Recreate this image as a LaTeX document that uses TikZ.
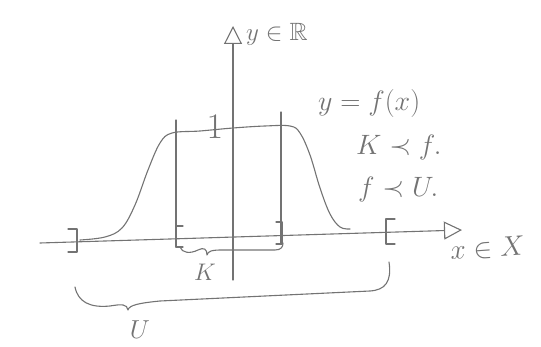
\RequirePackage{fix-cm}
\documentclass[tikz,border=0pt]{standalone}
\usepackage{amssymb}
\usetikzlibrary{arrows.meta}
\definecolor{pencil}{RGB}{115,115,115}
\tikzset{
  pen/.style={draw=pencil, line width=1.1pt, line cap=round, line join=round},
  lbl/.style={text=pencil, inner sep=0pt, font=\fontsize{28}{30}\selectfont},
  axisarrow/.style={pen, -{Triangle[open, length=18pt, width=18pt]}}
}
\begin{document}
\begin{tikzpicture}[x=1pt, y=-1pt]
\useasboundingbox (0,0) rectangle (541,347);
% axes
\coordinate (xs) at (40,243);
\coordinate (xe) at (462,230);
\coordinate (ys) at (233,280);
\coordinate (ye) at (233,26);
\draw[axisarrow] (xs) -- (xe);
\draw[axisarrow] (ys) -- (ye);
\node[lbl, anchor=west, font=\fontsize{25}{27}\selectfont] (ylab) at (246,34) {$y\in\mathbb{R}$};
\node[lbl, anchor=west, rotate=4] (xlab) at (450,251) {$x\in X$};
% bump function
\draw[pen] plot[smooth, tension=0.6] coordinates {
  (80,240) (105,237) (122,228) (135,205) (148,170) (160,143) (172,133)
  (200,131) (233,128) (265,126) (290,126) (300,133) (310,155) (320,188)
  (330,214) (340,227) (350,229)};
% K vertical lines
\draw[pen] (176,120) -- (176,247);
\draw[pen] (281,112) -- (281,244);
% brackets
\draw[pen] (68,229) -- (77,229) -- (77,252) -- (68,252);
\draw[pen] (395,219) -- (386,219) -- (386,244) -- (395,244);
\draw[pen] (183,226) -- (176,226) -- (176,247) -- (183,247);
\draw[pen] (276,222) -- (282,222) -- (282,244) -- (276,244);
% K brace
\draw[pen] (180,247) .. controls (182,253) and (190,254) .. (198,250)
  .. controls (204,247) and (207,249) .. (207,255)
  .. controls (208,251) and (212,250) .. (222,250) -- (275,250)
  .. controls (281,250) and (283,247) .. (283,243);
% U brace
\draw[pen] (75,287) .. controls (78,302) and (90,308) .. (110,306)
  .. controls (122,304) and (127,304) .. (128,310)
  .. controls (129,305) and (140,303) .. (160,301) -- (370,291)
  .. controls (385,290) and (392,282) .. (389,262);
% labels
\node[lbl, font=\fontsize{36}{38}\selectfont] (one) at (215,127) {$1$};
\node[lbl, font=\fontsize{24}{26}\selectfont] (klab) at (205,272) {$K$};
\node[lbl, font=\fontsize{26}{28}\selectfont] (ulab) at (140,330) {$U$};
\node[lbl, anchor=west] (fx) at (318,104) {$y=f(x)$};
\node[lbl, anchor=west] (kf) at (356,148) {$K\prec f.$};
\node[lbl, anchor=west] (fu) at (358,190) {$f\prec U.$};
\end{tikzpicture}
\end{document}
